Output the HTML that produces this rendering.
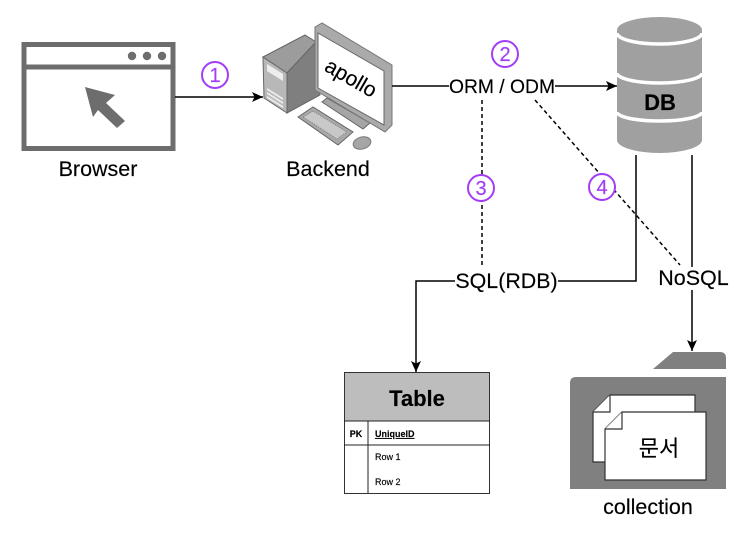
<!DOCTYPE html>
<html><head><meta charset="utf-8"><style>
html,body{margin:0;padding:0;background:#fff}
svg{display:block}
text{font-family:"Liberation Sans","Noto Sans CJK KR",sans-serif;fill:#000;stroke:#000;stroke-width:0.15}
</style></head><body>
<svg width="740" height="533" viewBox="0 0 740 533" xmlns="http://www.w3.org/2000/svg">
<defs>
<marker id="a" markerWidth="12" markerHeight="11" refX="11" refY="5.500" orient="auto" markerUnits="userSpaceOnUse"><path d="M0,0.500 L11,5.500 L0,10.500 L2.500,5.500 Z" fill="#000"/></marker>
<filter id="b" filterUnits="userSpaceOnUse" x="0" y="0" width="740" height="533"><feGaussianBlur stdDeviation="0.3"/></filter>
</defs>
<rect width="740" height="533" fill="#fff"/>
<g filter="url(#b)">

<!-- Browser -->
<rect x="24" y="44.500" width="149" height="104" fill="#fff" stroke="#6d6d6d" stroke-width="5"/>
<line x1="24" y1="67" x2="173" y2="67" stroke="#6d6d6d" stroke-width="5"/>
<circle cx="132" cy="56" r="4.200" fill="#6d6d6d"/><circle cx="147" cy="56" r="4.200" fill="#6d6d6d"/><circle cx="162" cy="56" r="4.200" fill="#6d6d6d"/>
<polygon points="85,87 115,95 106,103 125,121 117,128 98,110 93,117" fill="#6d6d6d"/>
<text x="98" y="176" font-size="21.500" text-anchor="middle">Browser</text>

<!-- Computer -->
<polygon points="263,57 287,73 287,113 264,98" fill="#b8b8b8" stroke="#666" stroke-width="1"/>
<polygon points="263,57 305,35 316,42 287,73" fill="#9c9c9c" stroke="#666" stroke-width="1"/>
<polygon points="287,73 316,42 320,95 287,113" fill="#7f7f7f" stroke="#666" stroke-width="1"/>
<polygon points="267,64 283,74 283,81 267,71" fill="#eee"/>
<polygon points="267,88 283,98 283,100 267,90" fill="#eee"/>
<polygon points="267,92 283,102 283,104 267,94" fill="#eee"/>
<polygon points="267,96 283,106 283,108 267,98" fill="#eee"/>
<polygon points="322,102 327,98 370,123 363,129" fill="#a5a5a5" stroke="#666"/>
<polygon points="315,27 322,23 392,65 392,125 385,132 315,90" fill="#aaa" stroke="#777"/>
<polygon points="318,33 384,71 384,125 318,88" fill="#fff" stroke="#666"/>
<polygon points="298,117 313,107 353,132 338,145" fill="#a8a8a8" stroke="#666"/>
<polygon points="303,117 313,111 347,132 337,139" fill="#c8c8c8" stroke="#888" stroke-dasharray="1.500 1"/>
<ellipse cx="362" cy="143" rx="9" ry="6" transform="rotate(-15 362 143)" fill="#a5a5a5" stroke="#777"/>
<text x="351" y="85" font-size="21" text-anchor="middle" transform="rotate(30 351 78)">apollo</text>
<text x="328" y="176" font-size="21.500" text-anchor="middle">Backend</text>

<!-- DB -->
<path d="M617,30 A42.500,13 0 0 1 702,30 V140 A42.500,13 0 0 1 617,140 Z" fill="#a0a0a0"/>
<path d="M617,33 A42.500,11 0 0 0 702,33" fill="none" stroke="#fff" stroke-width="3.500"/>
<path d="M617,73 A42.500,10 0 0 0 702,73" fill="none" stroke="#fff" stroke-width="3.500"/>
<path d="M617,112 A42.500,9 0 0 0 702,112" fill="none" stroke="#fff" stroke-width="3.500"/>
<text x="660" y="110" font-size="22" font-weight="bold" text-anchor="middle">DB</text>

<!-- Connectors -->
<g fill="none" stroke="#000" stroke-width="1.500">
<line x1="175" y1="97" x2="263" y2="97" marker-end="url(#a)"/>
<line x1="392" y1="86" x2="449" y2="86"/>
<line x1="555" y1="86" x2="617" y2="86" marker-end="url(#a)"/>
<path d="M636,155 V281 H558"/>
<path d="M455,281 H416 V372" marker-end="url(#a)"/>
<line x1="692" y1="155" x2="692" y2="267"/>
<line x1="692" y1="290" x2="692" y2="351" marker-end="url(#a)"/>
<line x1="482" y1="100" x2="482" y2="268" stroke-dasharray="4 3"/>
<line x1="535" y1="100" x2="680" y2="265" stroke-dasharray="4 3"/>
</g>
<text x="502" y="93" font-size="19.300" text-anchor="middle">ORM / ODM</text>
<text x="506.500" y="288" font-size="21.400" text-anchor="middle">SQL(RDB)</text>
<text x="693.500" y="285" font-size="21.500" text-anchor="middle">NoSQL</text>

<!-- Circled numbers -->
<g fill="#fff" stroke="#a23cf5" stroke-width="2">
<circle cx="215" cy="75" r="13"/><circle cx="505" cy="54" r="13"/><circle cx="481" cy="188" r="13"/><circle cx="602" cy="187" r="13"/>
</g>
<g font-size="20" text-anchor="middle">
<text x="215" y="82" style="fill:#a23cf5;stroke:#a23cf5">1</text>
<text x="505" y="61" style="fill:#a23cf5;stroke:#a23cf5">2</text>
<text x="481" y="195" style="fill:#a23cf5;stroke:#a23cf5">3</text>
<text x="602" y="194" style="fill:#a23cf5;stroke:#a23cf5">4</text>
</g>

<!-- Table -->
<rect x="344.500" y="372.500" width="145" height="121" fill="#fff" stroke="#333"/>
<rect x="345" y="373" width="144" height="48" fill="#bdbdbd"/>
<line x1="344" y1="421" x2="490" y2="421" stroke="#222"/>
<line x1="344" y1="445" x2="490" y2="445" stroke="#222"/>
<line x1="368" y1="421" x2="368" y2="493" stroke="#222"/>
<text x="417" y="406" font-size="22" font-weight="bold" text-anchor="middle">Table</text>
<text x="356" y="437" font-size="9" font-weight="bold" text-anchor="middle">PK</text>
<text x="375" y="437" font-size="9" font-weight="bold" text-decoration="underline">UniqueID</text>
<text x="375" y="460" font-size="9">Row 1</text>
<text x="375" y="485" font-size="9">Row 2</text>

<!-- Folder -->
<path d="M653,369 L673,352 H720 Q726,352 726,358 V369 Z" fill="#808080"/>
<path d="M570,489 V383 Q570,377 576,377 H726 V489 Z" fill="#808080"/>
<polygon points="610,395 695,395 695,462 593,462 593,412" fill="#fff" stroke="#333" stroke-width="1.200"/>
<polyline points="593,412 610,412 610,395" fill="#fff" stroke="#333" stroke-width="1.200"/>
<polygon points="622,412 706,412 706,480 605,480 605,429" fill="#fff" stroke="#333" stroke-width="1.200"/>
<polyline points="605,429 622,429 622,412" fill="#fff" stroke="#333" stroke-width="1.200"/>
<text x="659" y="456" font-size="22" text-anchor="middle">문서</text>
<text x="648" y="514" font-size="21.500" text-anchor="middle">collection</text>
</g>
</svg>
</body></html>
